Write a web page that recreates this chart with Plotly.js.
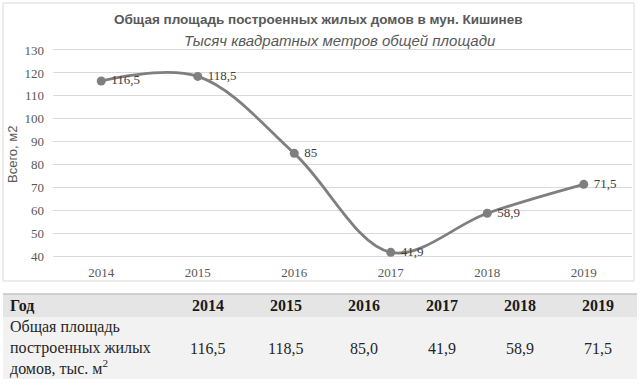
<!DOCTYPE html>
<html>
<head>
<meta charset="utf-8">
<script src="https://cdn.plot.ly/plotly-3.0.1.min.js"></script>
<style>html,body{margin:0;padding:0;background:#fff;}#chart{width:640px;height:385px;}</style>
</head>
<body>
<div id="chart"></div>
<script>
const years = ['2014', '2015', '2016', '2017', '2018', '2019'];
const areaValues = [116.5, 118.5, 85, 41.9, 58.9, 71.5];
const chartTitle = 'Общая площадь построенных жилых домов в мун. Кишинев';
const chartSubtitle = 'Тысяч квадратных метров общей площади';
const yAxisTitle = 'Всего, м2';
const tableRowHeader = 'Год';
const tableRowLabel = 'Общая площадь<br>построенных жилых<br>домов, тыс. м<sup>2</sup>';

const comma = s => String(s).replace('.', ',');
const labelText = areaValues.map(v => '\u00a0' + comma(v));
const tableText = areaValues.map(v => comma(v.toFixed(1)));

const W = 640, H = 385;
const px = x => x / W;
const py = y => 1 - y / H;

// table geometry (pixels)
const tblLeft = 3, tblRight = 637, tblTop = 294, headH = 23, bodyH = 62;
const firstColW = 165.5, colW = 78;

const lineTrace = {
  type: 'scatter', mode: 'lines+markers+text',
  x: years, y: areaValues, text: labelText,
  textposition: 'middle right',
  textfont: {family: 'Liberation Serif', size: 13, color: '#404040'},
  line: {color: '#7f7f7f', width: 2.8, shape: 'spline', smoothing: 1},
  marker: {color: '#7f7f7f', size: 9},
  cliponaxis: false, hoverinfo: 'none', showlegend: false
};

const shapes = [
  {type: 'rect', xref: 'paper', yref: 'paper', x0: px(3), x1: px(634), y0: py(281), y1: py(3),
   line: {color: '#d9d9d9', width: 1}, fillcolor: 'rgba(0,0,0,0)'},
  {type: 'rect', xref: 'paper', yref: 'paper', x0: px(tblLeft), x1: px(tblRight),
   y0: py(tblTop + headH), y1: py(tblTop), line: {width: 0}, fillcolor: '#e5e5e5'},
  {type: 'rect', xref: 'paper', yref: 'paper', x0: px(tblLeft), x1: px(tblRight),
   y0: py(tblTop + headH + bodyH), y1: py(tblTop + headH), line: {width: 0}, fillcolor: '#f2f2f3'},
  {type: 'line', xref: 'paper', yref: 'paper', x0: px(tblLeft), x1: px(tblRight), y0: py(tblTop), y1: py(tblTop),
   line: {color: '#c4c4c4', width: 1.5}}
];

const annotations = [
  {text: '<b>' + chartTitle + '</b>', xref: 'paper', yref: 'paper', x: px(318), y: py(19),
   xanchor: 'center', yanchor: 'middle', showarrow: false,
   font: {family: 'Liberation Sans', size: 13.5, color: '#595959'}},
  {text: '<i>' + chartSubtitle + '</i>', xref: 'paper', yref: 'paper', x: px(340), y: py(40),
   xanchor: 'center', yanchor: 'middle', showarrow: false,
   font: {family: 'Liberation Sans', size: 15, color: '#595959'}},
  {text: yAxisTitle, xref: 'paper', yref: 'paper', x: px(12), y: py(155),
   xanchor: 'center', yanchor: 'middle', textangle: -90, showarrow: false,
   font: {family: 'Liberation Sans', size: 13, color: '#595959'}},
  {text: '<b>' + tableRowHeader + '</b>', xref: 'paper', yref: 'paper', x: px(8), y: py(tblTop + headH / 2),
   xanchor: 'left', yanchor: 'middle', showarrow: false,
   font: {family: 'Liberation Serif', size: 16, color: '#1a1a1a'}},
  {text: tableRowLabel, xref: 'paper', yref: 'paper', x: px(8), y: py(tblTop + headH + bodyH / 2),
   xanchor: 'left', yanchor: 'middle', align: 'left', showarrow: false,
   font: {family: 'Liberation Serif', size: 16, color: '#262626'}}
];
years.forEach((yr, i) => {
  const cx = tblLeft + firstColW + colW * i + colW / 2;
  annotations.push({text: '<b>' + yr + '</b>', xref: 'paper', yref: 'paper', x: px(cx), y: py(tblTop + headH / 2),
    xanchor: 'center', yanchor: 'middle', showarrow: false,
    font: {family: 'Liberation Serif', size: 16, color: '#1a1a1a'}});
  annotations.push({text: tableText[i], xref: 'paper', yref: 'paper', x: px(cx), y: py(tblTop + headH + bodyH / 2),
    xanchor: 'center', yanchor: 'middle', showarrow: false,
    font: {family: 'Liberation Serif', size: 16, color: '#262626'}});
});

const layout = {
  width: W, height: H, autosize: false,
  margin: {l: 0, r: 0, t: 0, b: 0, pad: 0},
  paper_bgcolor: '#ffffff', plot_bgcolor: '#ffffff',
  showlegend: false,
  xaxis: {
    domain: [px(53), px(632)], type: 'category', range: [-0.5, 5.5],
    showgrid: false, zeroline: false, showline: false, ticks: '',
    ticklabelstandoff: 2,
    tickfont: {family: 'Liberation Serif', size: 13, color: '#595959'},
    fixedrange: true
  },
  yaxis: {
    domain: [py(261.3), py(45.4)], range: [38, 132],
    tick0: 40, dtick: 10, showgrid: true, gridcolor: '#d9d9d9', gridwidth: 1,
    zeroline: false, showline: false, ticks: '',
    ticklabelstandoff: 8,
    tickfont: {family: 'Liberation Serif', size: 13, color: '#595959'},
    fixedrange: true
  },
  shapes: shapes,
  annotations: annotations
};

Plotly.newPlot('chart', [lineTrace], layout, {displayModeBar: false, staticPlot: true});
</script>
</body>
</html>
